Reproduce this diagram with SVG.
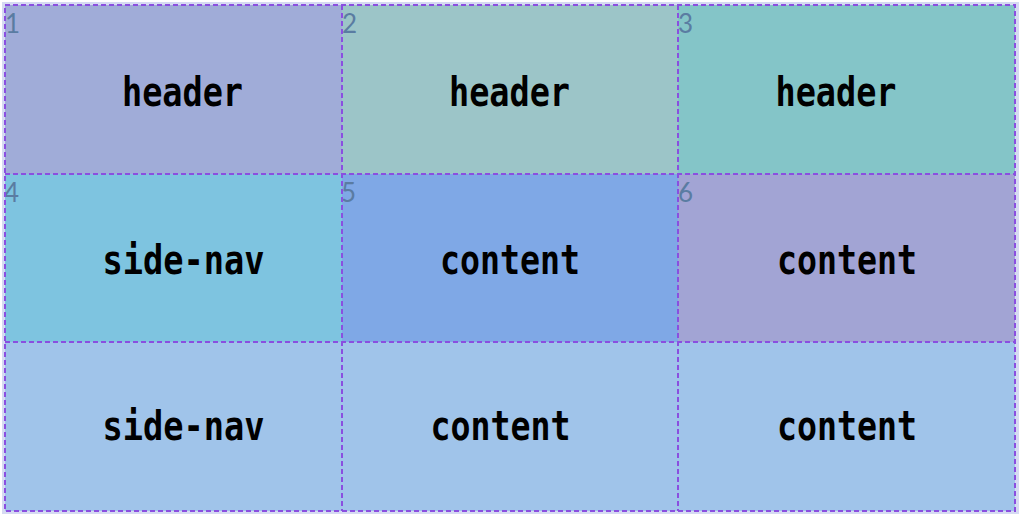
<svg xmlns="http://www.w3.org/2000/svg" width="1024" height="516" viewBox="0 0 1024 516">
  <style>
    .lbl { font-family: "DejaVu Sans Mono", "Liberation Mono", monospace; font-weight: bold; font-size: 41px; fill: #000; text-anchor: middle; }
    .num { font-family: "Lato", "Open Sans", "Liberation Sans", sans-serif; font-weight: 400; font-size: 26px; fill: #5a7ca2; }
    .grid { stroke: #8a4fe0; stroke-width: 2; stroke-dasharray: 5 3; fill: none; }
  </style>
  <rect x="0" y="0" width="1024" height="516" fill="#ffffff"/>
  <rect x="2" y="2" width="1017" height="512" fill="#d6daf2"/>
  <g id="cell1"><rect x="5" y="5" width="337" height="169" fill="#a0acd8"/><text class="num" x="5" y="33">1</text><text class="lbl" x="182.5" y="106" textLength="121" lengthAdjust="spacingAndGlyphs">header</text></g>
  <g id="cell2"><rect x="342" y="5" width="336" height="169" fill="#9cc5c8"/><text class="num" x="342" y="33">2</text><text class="lbl" x="509.5" y="106" textLength="121" lengthAdjust="spacingAndGlyphs">header</text></g>
  <g id="cell3"><rect x="678" y="5" width="337" height="169" fill="#84c5c8"/><text class="num" x="678" y="33">3</text><text class="lbl" x="836" y="106" textLength="121" lengthAdjust="spacingAndGlyphs">header</text></g>
  <g id="cell4"><rect x="5" y="174" width="337" height="168" fill="#7ec4e0"/><text class="num" x="4" y="202">4</text><text class="lbl" x="183.5" y="274" textLength="162" lengthAdjust="spacingAndGlyphs">side-nav</text></g>
  <g id="cell5"><rect x="342" y="174" width="336" height="168" fill="#7fa8e6"/><text class="num" x="341" y="202">5</text><text class="lbl" x="510" y="274" textLength="140" lengthAdjust="spacingAndGlyphs">content</text></g>
  <g id="cell6"><rect x="678" y="174" width="337" height="168" fill="#a2a4d4"/><text class="num" x="678" y="202">6</text><text class="lbl" x="847" y="274" textLength="140" lengthAdjust="spacingAndGlyphs">content</text></g>
  <g id="cell7"><rect x="5" y="342" width="337" height="169" fill="#a0c4ea"/><text class="lbl" x="183.5" y="440" textLength="162" lengthAdjust="spacingAndGlyphs">side-nav</text></g>
  <g id="cell8"><rect x="342" y="342" width="336" height="169" fill="#a0c4ea"/><text class="lbl" x="500.5" y="440" textLength="140" lengthAdjust="spacingAndGlyphs">content</text></g>
  <g id="cell9"><rect x="678" y="342" width="337" height="169" fill="#a0c4ea"/><text class="lbl" x="847" y="440" textLength="140" lengthAdjust="spacingAndGlyphs">content</text></g>
  <g id="gridlines">
    <rect class="grid" x="5" y="5" width="1010" height="506"/>
    <line class="grid" x1="342" y1="5" x2="342" y2="511"/>
    <line class="grid" x1="678" y1="5" x2="678" y2="511"/>
    <line class="grid" x1="5" y1="174" x2="1015" y2="174"/>
    <line class="grid" x1="5" y1="342" x2="1015" y2="342"/>
  </g>
</svg>
